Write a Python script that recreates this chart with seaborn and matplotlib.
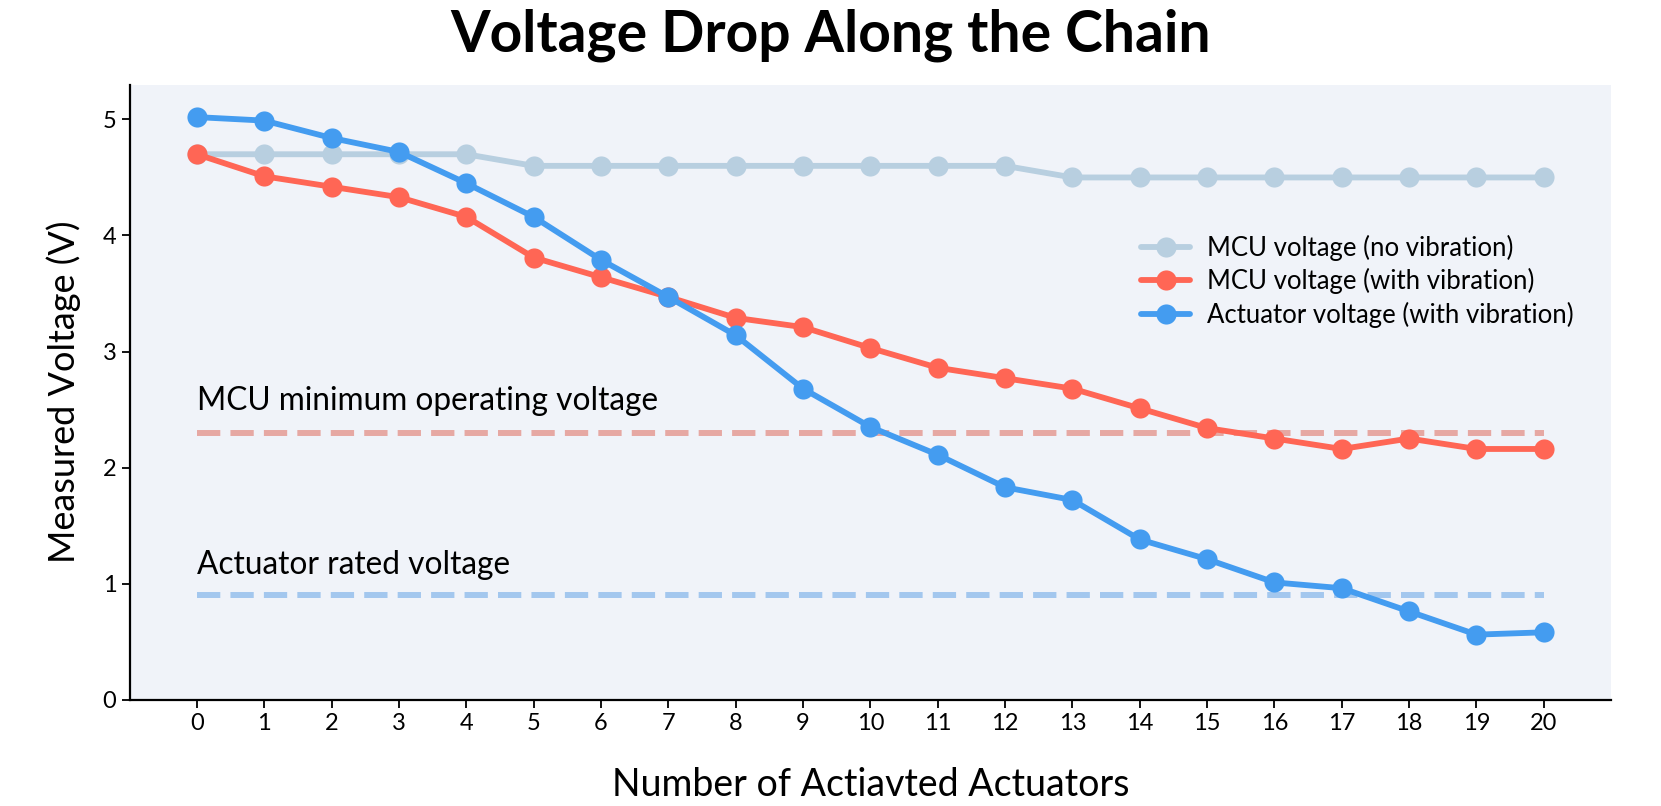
import matplotlib
matplotlib.use('Agg')
import matplotlib.pyplot as plt
import numpy as np
import pandas as pd
import seaborn as sns

# values
actuators = list(range(0, 21))
mcu_no_vib = [4.7, 4.7, 4.7, 4.7, 4.7, 4.6, 4.6, 4.6, 4.6, 4.6, 4.6,
              4.6, 4.6, 4.5, 4.5, 4.5, 4.5, 4.5, 4.5, 4.5, 4.5]
mcu_vib = [4.7, 4.51, 4.42, 4.33, 4.16, 3.81, 3.64, 3.47, 3.29, 3.21, 3.03,
           2.86, 2.77, 2.68, 2.51, 2.34, 2.25, 2.16, 2.25, 2.16, 2.16]
act_vib = [5.02, 4.99, 4.84, 4.72, 4.45, 4.16, 3.79, 3.47, 3.14, 2.68, 2.35,
           2.11, 1.83, 1.72, 1.38, 1.21, 1.01, 0.96, 0.76, 0.56, 0.58]
series_names = ['MCU voltage (no vibration)', 'MCU voltage (with vibration)',
                'Actuator voltage (with vibration)']
series_colors = ['#b8cfe0', '#ff6655', '#449cf0']
mcu_min_voltage = 2.3
actuator_rated_voltage = 0.9
threshold_labels = ['MCU minimum operating voltage', 'Actuator rated voltage']

sns.set_style('ticks')
plt.rcParams['font.family'] = ['Lato', 'DejaVu Sans']
plt.rcParams['text.color'] = 'black'
plt.rcParams['axes.labelcolor'] = 'black'
plt.rcParams['xtick.color'] = 'black'
plt.rcParams['ytick.color'] = 'black'
plt.rcParams['axes.edgecolor'] = 'black'

df = pd.DataFrame({'Actuators': actuators,
                   series_names[0]: mcu_no_vib,
                   series_names[1]: mcu_vib,
                   series_names[2]: act_vib})
long_df = df.melt(id_vars='Actuators', var_name='Series', value_name='Voltage')

fig, ax = plt.subplots(figsize=(16.61, 8.06), dpi=100)
fig.subplots_adjust(left=0.078, right=0.970, top=0.895, bottom=0.132)
ax.set_facecolor('#f0f3f9')

# threshold lines
ax.plot([actuators[0], actuators[-1]], [mcu_min_voltage] * 2, color='#e6a8a3',
        lw=4.3, dashes=(3.9, 1.7), zorder=1)
ax.plot([actuators[0], actuators[-1]], [actuator_rated_voltage] * 2, color='#a3c7ee',
        lw=4.3, dashes=(3.9, 1.7), zorder=1)
ax.text(actuators[0], mcu_min_voltage + 0.195, threshold_labels[0], fontsize=22.8, va='baseline')
ax.text(actuators[0], actuator_rated_voltage + 0.18, threshold_labels[1], fontsize=22.8, va='baseline')

sns.lineplot(data=long_df, x='Actuators', y='Voltage', hue='Series',
             hue_order=series_names, palette=series_colors, marker='o',
             markersize=14.5, markeredgewidth=0, linewidth=4.2, ax=ax, zorder=3)

ax.set_xlim(-1, 21)
ax.set_ylim(0, 5.3)
ax.set_xticks(actuators)
ax.set_yticks([0, 1, 2, 3, 4, 5])
ax.tick_params(labelsize=17, length=6, width=1.3)
for side in ['left', 'bottom']:
    ax.spines[side].set_linewidth(1.6)
sns.despine(ax=ax)

ax.set_xlabel('Number of Actiavted Actuators', fontsize=27, labelpad=24)
ax.set_ylabel('Measured Voltage (V)', fontsize=26)
ax.yaxis.set_label_coords(-0.033, 0.5)
fig.suptitle('Voltage Drop Along the Chain', fontsize=41, fontweight='bold',
             x=0.5, y=1 - 52 / 806, va='baseline')

ax.legend(title=None, frameon=False, fontsize=18.5, loc='center left',
          bbox_to_anchor=(0.683, 0.68), borderaxespad=0, borderpad=0,
          handlelength=1.87, handletextpad=0.66, labelspacing=0.29)

plt.savefig('out.png', dpi=100)
